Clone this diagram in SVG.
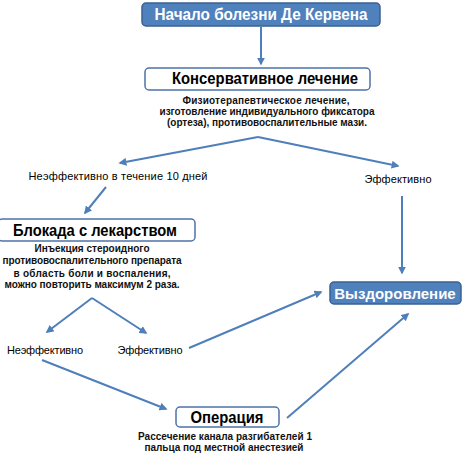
<svg xmlns="http://www.w3.org/2000/svg" width="463" height="458" viewBox="0 0 463 458">
<style>
.bb{fill:#4f81bd;stroke:#3a6190;stroke-width:1.5}
.wb{fill:#fff;stroke:#4f73a8;stroke-width:1.5}
.t{font-family:"Liberation Sans",Arial,sans-serif;font-weight:bold;text-anchor:middle}
.tw{fill:#fff;font-size:16px}
.tk{fill:#000;font-size:16px}
.s{font-size:10px;fill:#111}
.l{font-family:"Liberation Sans",Arial,sans-serif;font-size:11px;fill:#000;text-anchor:middle}
.c{stroke:#4f7fba;stroke-width:2;fill:none;marker-end:url(#ah)}
</style>
<defs>
<marker id="ah" viewBox="0 0 10 10" refX="8" refY="5" markerWidth="4" markerHeight="4" orient="auto" markerUnits="strokeWidth">
<path d="M0,0 L10,5 L0,10 z" fill="#4f7fba"/>
</marker>
</defs>
<rect width="463" height="458" fill="#fff"/>
<g id="connectors">
<line class="c" x1="261" y1="27" x2="261" y2="64"/>
<line class="c" x1="258" y1="137" x2="120" y2="163"/>
<line class="c" x1="258" y1="137" x2="398" y2="166"/>
<line class="c" x1="106" y1="187" x2="85" y2="213"/>
<line class="c" x1="402" y1="196" x2="402" y2="273"/>
<line class="c" x1="92" y1="298" x2="47" y2="332"/>
<line class="c" x1="92" y1="298" x2="146" y2="333"/>
<line class="c" x1="189" y1="348" x2="321" y2="292"/>
<line class="c" x1="42" y1="360" x2="166" y2="409"/>
<line class="c" x1="287" y1="418" x2="408" y2="314"/>
</g>
<g id="start">
<rect class="bb" x="142" y="3" width="238" height="23" rx="4"/>
<text class="t tw" x="261" y="20" textLength="213" lengthAdjust="spacingAndGlyphs">Начало болезни Де Кервена</text>
</g>
<g id="conservative">
<rect class="wb" x="145" y="68" width="225" height="22" rx="4"/>
<text class="t tk" x="265" y="84" textLength="186" lengthAdjust="spacingAndGlyphs">Консервативное лечение</text>
<text class="t s" x="266" y="104" textLength="167">Физиотерапевтическое лечение,</text>
<text class="t s" x="267" y="115" textLength="215">изготовление индивидуального фиксатора</text>
<text class="t s" x="267" y="126" textLength="200">(ортеза), противовоспалительные мази.</text>
</g>
<g id="ineffective1">
<text class="l" x="118" y="180" textLength="179">Неэффективно в течение 10 дней</text>
</g>
<g id="effective1">
<text class="l" x="398" y="183" textLength="67">Эффективно</text>
</g>
<g id="blockade">
<rect class="wb" x="-2" y="219" width="197" height="22" rx="4"/>
<text class="t tk" x="95" y="236" textLength="164" lengthAdjust="spacingAndGlyphs">Блокада с лекарством</text>
<text class="t s" x="92" y="252">Инъекция стероидного</text>
<text class="t s" x="92" y="264" textLength="179">противовоспалительного препарата</text>
<text class="t s" x="92" y="277" textLength="157">в область боли и воспаления,</text>
<text class="t s" x="92" y="288" textLength="175">можно повторить максимум 2 раза.</text>
</g>
<g id="ineffective2">
<text class="l" x="45" y="354" textLength="76">Неэффективно</text>
</g>
<g id="effective2">
<text class="l" x="150" y="354" textLength="65">Эффективно</text>
</g>
<g id="recovery">
<rect class="bb" x="330" y="282" width="131" height="22" rx="4"/>
<text class="t" style="fill:#fff;font-size:15px" x="395" y="298.5">Выздоровление</text>
</g>
<g id="operation">
<rect class="wb" x="176" y="407" width="103" height="20" rx="4"/>
<text class="t tk" x="227" y="423" textLength="73" lengthAdjust="spacingAndGlyphs">Операция</text>
<text class="t s" x="225" y="440" textLength="174">Рассечение канала разгибателей 1</text>
<text class="t s" x="224" y="451" textLength="159">пальца под местной анестезией</text>
</g>
</svg>
